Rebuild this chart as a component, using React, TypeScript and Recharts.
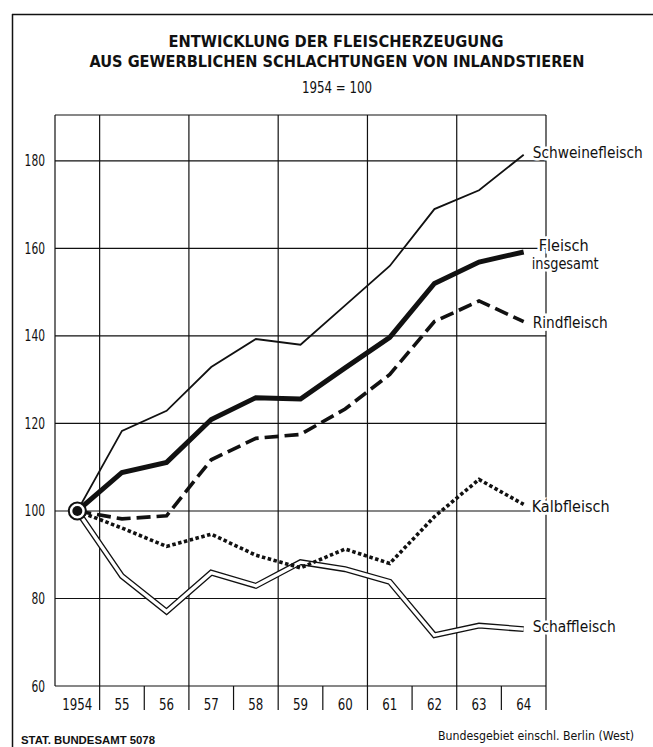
import React from 'react'
import {CartesianGrid, Line, LineChart, XAxis, YAxis} from 'recharts';

const years = [1954, 1955, 1956, 1957, 1958, 1959, 1960, 1961, 1962, 1963, 1964];
const schwein = [100, 118.3, 122.9, 132.9, 139.3, 138.0, 147.0, 156.0, 169.0, 173.3, 181.4];
const insgesamt = [100, 108.8, 111.1, 120.9, 125.9, 125.6, 132.7, 139.7, 152.0, 156.9, 159.2];
const rind = [100, 98.2, 98.9, 111.7, 116.6, 117.5, 123.3, 131.2, 143.3, 148.0, 143.3];
const kalb = [100, 96.1, 91.9, 94.7, 89.9, 87.0, 91.3, 88.0, 98.7, 107.2, 101.5];
const schaf = [100, 85.1, 77.0, 85.9, 82.9, 88.3, 86.7, 83.8, 71.6, 73.8, 73.0];

const yTicks = [60, 80, 100, 120, 140, 160, 180];
const dividers = [54.5, 55.5, 56.5, 57.5, 58.5, 59.5, 60.5, 61.5, 62.5, 63.5, 64.5].map(v => 1900 + v);
const gridX = [53.5, 54.5, 56.5, 58.5, 60.5, 62.5, 64.5].map(v => 1900 + v);

const data = years.map((y, i) => ({
    year: y,
    schwein: schwein[i],
    insgesamt: insgesamt[i],
    rind: rind[i],
    kalb: kalb[i],
    schaf: schaf[i],
}));

const narrow = "'Liberation Sans Narrow', 'DejaVu Sans Condensed', 'Liberation Sans', sans-serif";
const last = years.length - 1;

// condensed look: squeeze each text to the width it has in the print
const squeeze = (t: string, size: number) => Math.round(t.length * size * 0.43);

const endLabel = (lines: string[], widths: number[], dy: number[], dx: number[]) => (props: any) => {
    const {x, y, index} = props;
    if (index !== last) return null;
    return (
        <g>
            {lines.map((t, i) => (
                <text key={t} x={x + dx[i]} y={y + dy[i]} fontFamily={narrow} fontSize={15}
                      textLength={widths[i]} lengthAdjust="spacingAndGlyphs"
                      fill="#111" stroke="#fff" strokeWidth={5} paintOrder="stroke"
                      dominantBaseline="central">{t}</text>
            ))}
        </g>
    );
};

const startDot = (props: any) => {
    const {cx, cy, index} = props;
    if (index !== 0) return <g key={index}/>;
    return (
        <g key={index}>
            <circle cx={cx} cy={cy} r={8.5} fill="#fff" stroke="#111" strokeWidth={2}/>
            <circle cx={cx} cy={cy} r={5} fill="#111"/>
        </g>
    );
};

const YearTick = (props: any) => {
    const {x, y, payload} = props;
    const t = payload.value === 1954 ? '1954' : String(payload.value % 100);
    return (
        <text x={x} y={y + 12} textAnchor="middle" fontFamily={narrow} fontSize={16} fill="#111"
              textLength={t.length * 7.5} lengthAdjust="spacingAndGlyphs">{t}</text>
    );
};

const ValueTick = (props: any) => {
    const {x, y, payload} = props;
    const t = String(payload.value);
    return (
        <text x={x} y={y} textAnchor="end" dominantBaseline="central" fontFamily={narrow} fontSize={16}
              fill="#111" textLength={t.length * 6.8} lengthAdjust="spacingAndGlyphs">{t}</text>
    );
};

export default function App() {
    return (
        <div style={{position: 'absolute', left: 0, top: 0, width: 653, height: 747, background: '#fff'}}>
            <svg width={653} height={747} style={{position: 'absolute', left: 0, top: 0}}>
                <line x1={12.5} y1={14} x2={12.5} y2={747} stroke="#111" strokeWidth={1.5}/>
                <line x1={12} y1={14.5} x2={653} y2={14.5} stroke="#111" strokeWidth={1.5}/>
                <text x={336} y={47} textAnchor="middle" fontFamily={narrow} fontWeight="bold" fontSize={16}
                      textLength={335} lengthAdjust="spacingAndGlyphs" fill="#111">ENTWICKLUNG DER FLEISCHERZEUGUNG</text>
                <text x={337} y={67} textAnchor="middle" fontFamily={narrow} fontWeight="bold" fontSize={16}
                      textLength={495} lengthAdjust="spacingAndGlyphs" fill="#111">AUS GEWERBLICHEN SCHLACHTUNGEN VON INLANDSTIEREN</text>
                <text x={337} y={93} textAnchor="middle" fontFamily={narrow} fontSize={16}
                      textLength={70} lengthAdjust="spacingAndGlyphs" fill="#111">1954 = 100</text>
                <text x={21} y={744} fontFamily="'Liberation Sans', sans-serif" fontWeight="bold" fontSize={11}
                      textLength={134} lengthAdjust="spacingAndGlyphs" fill="#111">STAT. BUNDESAMT 5078</text>
                <text x={438} y={740} fontFamily={narrow} fontSize={12}
                      textLength={squeeze('Bundesgebiet einschl. Berlin (West)', 13)} lengthAdjust="spacingAndGlyphs"
                      fill="#111">Bundesgebiet einschl. Berlin (West)</text>
            </svg>
            <div style={{position: 'absolute', left: 0, top: 0}}>
                <LineChart
                    width={653}
                    height={747}
                    data={data}
                    margin={{top: 115, right: 107, bottom: 36, left: 15}}>
                    <CartesianGrid
                        xAxisId="yr"
                        stroke="#111"
                        strokeWidth={1.2}
                        horizontalValues={[...yTicks, 190.5]}
                        verticalValues={gridX}/>
                    <XAxis
                        xAxisId="yr"
                        dataKey="year"
                        type="number"
                        domain={[1953.5, 1964.5]}
                        ticks={years}
                        height={24}
                        interval={0}
                        tick={<YearTick/>}
                        tickSize={6}
                        tickMargin={5}
                        tickLine={false}
                        axisLine={false}/>
                    {/* year dividers in the label row */}
                    <XAxis
                        xAxisId="div"
                        dataKey="year"
                        type="number"
                        domain={[1953.5, 1964.5]}
                        ticks={dividers}
                        height={1}
                        interval={0}
                        tickFormatter={() => ''}
                        tickSize={24}
                        tickLine={{stroke: '#111', strokeWidth: 1.2}}
                        axisLine={false}/>
                    <YAxis
                        type="number"
                        domain={[60, 190.5]}
                        ticks={yTicks}
                        allowDataOverflow={true}
                        width={40}
                        interval={0}
                        tick={<ValueTick/>}
                        tickSize={6}
                        tickMargin={4}
                        tickLine={false}
                        axisLine={false}/>

                    <Line xAxisId="yr" type="linear" dataKey="schaf" stroke="#111" strokeWidth={6}
                          dot={false} isAnimationActive={false}
                          label={endLabel(['Schaffleisch'], [83], [-2], [9])}/>
                    <Line xAxisId="yr" type="linear" dataKey={(d: any) => d.schaf} stroke="#fff" strokeWidth={3.4}
                          dot={false} isAnimationActive={false}/>
                    <Line xAxisId="yr" type="linear" dataKey="kalb" stroke="#111" strokeWidth={3.6}
                          strokeDasharray="3.5 2.5" dot={false} isAnimationActive={false}
                          label={endLabel(['Kalbfleisch'], [78], [3], [8])}/>
                    <Line xAxisId="yr" type="linear" dataKey="rind" stroke="#111" strokeWidth={3.6}
                          strokeDasharray="14 6" dot={false} isAnimationActive={false}
                          label={endLabel(['Rindfleisch'], [75], [1], [9])}/>
                    <Line xAxisId="yr" type="linear" dataKey="schwein" stroke="#111" strokeWidth={1.8}
                          dot={false} isAnimationActive={false}
                          label={endLabel(['Schweinefleisch'], [110], [-2], [9])}/>
                    <Line xAxisId="yr" type="linear" dataKey="insgesamt" stroke="#111" strokeWidth={5}
                          dot={startDot} isAnimationActive={false}
                          label={endLabel(['Fleisch', 'insgesamt'], [50, 67], [-6, 12], [15, 8])}/>
                </LineChart>
            </div>
        </div>
    )
}
